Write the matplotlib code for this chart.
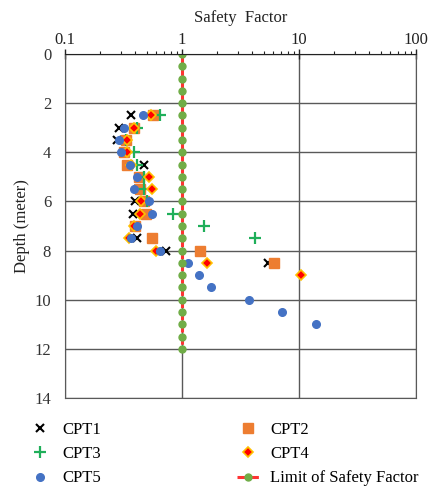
import numpy as np
import matplotlib
matplotlib.use("Agg")
import matplotlib.pyplot as plt

plt.rcParams["font.family"] = ["Liberation Serif", "DejaVu Serif"]

# depths (m) and safety factors
depth = [2.5, 3, 3.5, 4, 4.5, 5, 5.5, 6, 6.5, 7, 7.5, 8, 8.5]
cpt1 = [0.37, 0.29, 0.28, 0.32, 0.47, 0.43, 0.42, 0.40, 0.38, 0.40, 0.41, 0.73, 5.4]
cpt2 = [0.57, 0.39, 0.33, 0.32, 0.34, 0.43, 0.44, 0.47, 0.49, 0.40, 0.55, 1.42, 6.1]
cpt3 = [0.65, 0.41, 0.33, 0.39, 0.41, 0.47, 0.47, 0.50, 0.83, 1.54, 4.24, np.nan, np.nan]
depth4 = [2.5, 3, 3.5, 4, 4.5, 5, 5.5, 6, 6.5, 7, 7.5, 8, 8.5, 9]
cpt4 = [0.54, 0.39, 0.34, 0.34, 0.37, 0.52, 0.55, 0.45, 0.44, 0.39, 0.35, 0.60, 1.62, 10.4]
depth5 = [2.5, 3, 3.5, 4, 4.5, 5, 5.5, 6, 6.5, 7, 7.5, 8, 8.5, 9, 9.5, 10, 10.5, 11]
cpt5 = [0.46, 0.32, 0.29, 0.30, 0.36, 0.41, 0.39, 0.52, 0.55, 0.41, 0.37, 0.65,
        1.13, 1.40, 1.76, 3.77, 7.2, 14.1]
lim_depth = [0, 0.5, 1, 1.5, 2, 2.5, 3, 3.5, 4, 4.5, 5, 5.5, 6, 6.5, 7, 7.5,
             8, 8.5, 9, 9.5, 10, 10.5, 11, 11.5, 12]
lim_sf = [1] * len(lim_depth)

fig = plt.figure(figsize=(4.32, 4.91), dpi=100)
ax = fig.add_axes([0.1505, 0.1894, 0.8125, 0.7006])

gray = "#595959"
ax.set_xscale("log")
ax.set_xlim(0.1, 100)
ax.set_ylim(14, 0)
ax.set_yticks(range(0, 15, 2))
ax.grid(True, which="major", color=gray, linewidth=1.0)
ax.set_axisbelow(True)
for s in ["left", "right", "bottom"]:
    ax.spines[s].set_color(gray)
ax.spines["top"].set_color("#222222")

ax.xaxis.tick_top()
ax.xaxis.set_label_position("top")
ax.set_xticks([0.1, 1, 10, 100])
ax.set_xticklabels(["0.1", "1", "10", "100"])
ax.tick_params(axis="x", which="major", direction="inout", length=7, width=1,
               labelsize=12, pad=1, colors="#222222")
ax.tick_params(axis="x", which="minor", direction="out", length=2.5, width=0.8,
               colors="#222222")
ax.tick_params(axis="y", length=0, labelsize=12, pad=10, colors="#333333")
ax.set_xlabel("Safety  Factor", fontsize=12, labelpad=7, color="#222222")
ax.set_ylabel("Depth (meter)", fontsize=12, labelpad=3, color="#222222")

ax.plot(cpt1, depth, "x", color="black", ms=5.5, mew=1.5, ls="none", label="CPT1")
ax.plot(cpt2, depth, "s", color="#ED7D31", ms=7.5, ls="none", label="CPT2")
ax.plot(cpt3, depth, "+", color="#1FAF5A", ms=8, mew=1.6, ls="none", label="CPT3")
ax.plot(cpt4, depth4, "D", mfc="#FF0000", mec="#FFC000", mew=1.2, ms=5,
        ls="none", label="CPT4")
ax.plot(cpt5, depth5, "o", color="#4472C4", ms=5.5, ls="none", label="CPT5")
ax.plot(lim_sf, lim_depth, "--", color="#FF3333", lw=2.2, marker="o",
        mfc="#70AD47", mec="#70AD47", ms=5, dashes=(3, 1),
        label="Limit of Safety Factor")

h, l = ax.get_legend_handles_labels()
common = dict(frameon=False, fontsize=12, handlelength=1.35, handletextpad=0.65,
              labelspacing=0.5, numpoints=1, borderaxespad=0)
fig.legend([h[0], h[2], h[4]], [l[0], l[2], l[4]],
           loc="upper left", bbox_to_anchor=(22 / 432, 1 - 415 / 491), **common)
fig.legend([h[1], h[3], h[5]], [l[1], l[3], l[5]],
           loc="upper left", bbox_to_anchor=(230 / 432, 1 - 415 / 491), **common)

fig.savefig("out.png", dpi=100)
